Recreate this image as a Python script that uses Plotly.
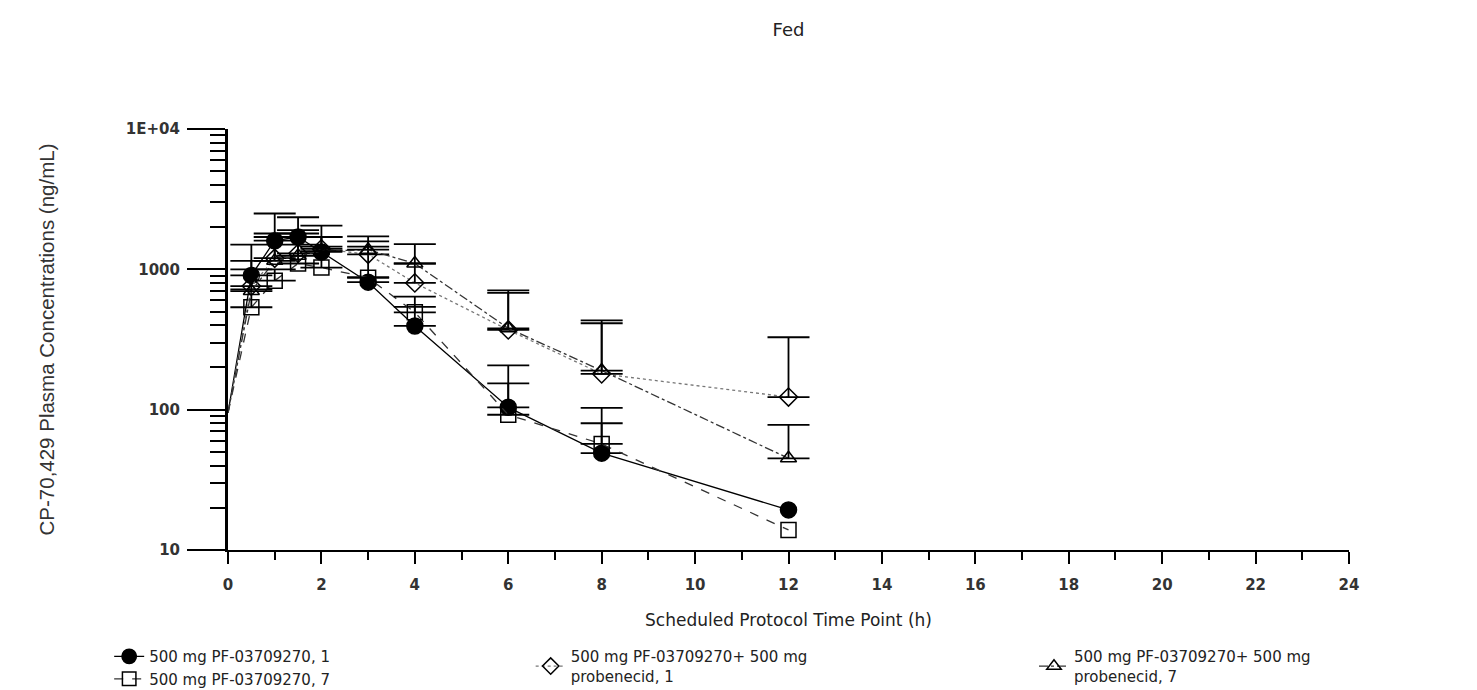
import plotly.graph_objects as go

# ---- data ----
time_h = [0, 0.5, 1, 1.5, 2, 3, 4, 6, 8, 12]

s1_name = "500 mg PF-03709270, 1"
s1_mean = [95, 905, 1600, 1700, 1330, 810, 395, 104, 49, 19.3]
s1_upper = [None, 1500, 2500, 2350, 2050, 880, 540, 207, 80, None]

s2_name = "500 mg PF-03709270, 7"
s2_mean = [95, 537, 830, 1100, 1030, 870, 494, 92, 57, 13.9]
s2_upper = [None, 720, 1000, 1500, 1450, 1450, 640, 154, 103, None]

s3_name = "500 mg PF-03709270+ 500 mg<br>probenecid, 1"
s3_mean = [95, 760, 1200, 1300, 1400, 1280, 800, 370, 180, 123]
s3_upper = [None, 1150, 1700, 1900, 1700, 1580, 1100, 680, 413, 328]

s4_name = "500 mg PF-03709270+ 500 mg<br>probenecid, 7"
s4_mean = [95, 700, 1150, 1250, 1350, 1380, 1100, 380, 190, 45]
s4_upper = [None, 1000, 1800, 1800, 1700, 1720, 1510, 709, 433, 78]

y_tickvals = [10, 100, 1000, 10000]
y_ticktext = ["10", "100", "1000", "1E+04"]
x_tickvals = list(range(0, 25, 2))

# ---- figure ----
fig = go.Figure()


def add_series(name, mean, upper, symbol, dash, msize, lcolor, legend):
    sizes = [0 if t == 0 else msize for t in time_h]
    fig.add_trace(go.Scatter(
        x=time_h, y=mean, name=name, mode="lines+markers",
        line=dict(color=lcolor, width=1.3, dash=dash),
        marker=dict(symbol=symbol, size=sizes, color="black", opacity=1,
                    line=dict(color="black", width=1.5)),
        legend=legend,
    ))
    ex = [t for t, u in zip(time_h, upper) if u is not None]
    ey = [m for m, u in zip(mean, upper) if u is not None]
    ep = [u - m for m, u in zip(mean, upper) if u is not None]
    fig.add_trace(go.Scatter(
        x=ex, y=ey, mode="markers", showlegend=False, hoverinfo="skip",
        marker=dict(size=1, color="rgba(0,0,0,0)"),
        error_y=dict(type="data", symmetric=False, array=ep, arrayminus=[0] * len(ep),
                     color="black", thickness=1.8, width=21),
    ))


add_series(s1_name, s1_mean, s1_upper, "circle", "solid", 16, "black", "legend")
add_series(s2_name, s2_mean, s2_upper, "square-open", "dash", 15, "#333333", "legend")
add_series(s3_name, s3_mean, s3_upper, "diamond-open", "dot", 14, "#777777", "legend2")
add_series(s4_name, s4_mean, s4_upper, "triangle-up-open", "dashdot", 14, "#333333", "legend3")

tick_font = dict(family="DejaVu Sans", size=15, color="#333333", weight="bold")
leg_font = dict(family="DejaVu Sans", size=15, color="#222222")

minor_vals = [m * 10 ** e for e in (1, 2, 3) for m in range(2, 10)]

fig.update_layout(
    width=1477, height=690,
    paper_bgcolor="white", plot_bgcolor="white",
    margin=dict(l=220, r=136, t=121, b=148, autoexpand=False),
    title=dict(text="Fed", x=0.5, xref="paper", y=0.968, yref="container",
               xanchor="center", yanchor="middle",
               font=dict(family="DejaVu Sans", size=18, color="#222222")),
    xaxis=dict(
        range=[0, 24], tickvals=x_tickvals, showgrid=False, zeroline=False,
        showline=True, linecolor="black", linewidth=2,
        ticks="outside", ticklen=12, tickwidth=2, tickcolor="black",
        minor=dict(dtick=1, ticks="outside", ticklen=8, tickwidth=2, tickcolor="black", showgrid=False),
        tickfont=tick_font, ticklabelstandoff=8,
        title=dict(text="Scheduled Protocol Time Point (h)",
                   font=dict(family="DejaVu Sans", size=17, color="#222222"), standoff=21),
    ),
    yaxis=dict(
        type="log", range=[1, 4], tickvals=y_tickvals, ticktext=y_ticktext,
        showgrid=False, zeroline=False,
        showline=True, linecolor="black", linewidth=3,
        ticks="outside", ticklen=38, tickwidth=2, tickcolor="black",
        minor=dict(tickvals=minor_vals, ticks="outside", ticklen=15, tickwidth=2,
                   tickcolor="black", showgrid=False),
        tickfont=tick_font, ticklabelstandoff=4,
        title=dict(text="CP-70,429 Plasma Concentrations (ng/mL)",
                   font=dict(family="Liberation Sans Narrow, Liberation Sans", size=20.5, color="#333333"),
                   standoff=66),
    ),
    legend=dict(x=-0.106, y=-0.214, xanchor="left", yanchor="top", orientation="v",
                font=leg_font, bgcolor="rgba(0,0,0,0)", tracegroupgap=0),
    legend2=dict(x=0.270, y=-0.214, xanchor="left", yanchor="top", orientation="v",
                 font=leg_font, bgcolor="rgba(0,0,0,0)"),
    legend3=dict(x=0.719, y=-0.214, xanchor="left", yanchor="top", orientation="v",
                 font=leg_font, bgcolor="rgba(0,0,0,0)"),
    showlegend=True,
)

fig.write_html("out.html")
